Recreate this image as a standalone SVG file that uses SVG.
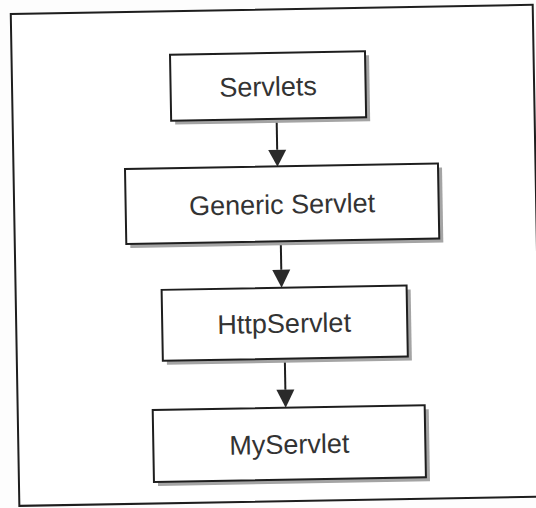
<svg xmlns="http://www.w3.org/2000/svg" width="536" height="508" viewBox="0 0 536 508">
<defs>
<style>
.box{fill:#fff;stroke:#1e1e1e;stroke-width:2}
.shadow{fill:#a4a4a4}
.lbl{font-family:"Liberation Sans",Arial,sans-serif;font-size:27px;fill:#333;text-anchor:middle;dominant-baseline:central}
.edge{stroke:#1e1e1e;stroke-width:2;fill:none}
.head{fill:#2a2a2a}
</style>
</defs>
<rect width="536" height="508" fill="#fdfdfd"/>
<g transform="rotate(-1 268 254)">
<rect id="frame" x="15" y="9.5" width="522" height="492" fill="#fff" stroke="#1e1e1e" stroke-width="2"/>
<g id="connectors">
<path class="edge" d="M279,120 V150"/>
<path class="head" d="M270,150 L288,150 L279,167 Z"/>
<path class="edge" d="M281,243 V270"/>
<path class="head" d="M272,270 L290,270 L281,288 Z"/>
<path class="edge" d="M283,360 V390"/>
<path class="head" d="M274,390 L292,390 L283,408 Z"/>
</g>
<g id="servlets">
<rect class="shadow" x="177.5" y="57" width="195" height="66"/>
<rect class="box" x="173.5" y="53" width="195" height="66"/>
<text class="lbl" x="271" y="87">Servlets</text>
</g>
<g id="generic">
<rect class="shadow" x="130.5" y="170.5" width="313" height="75"/>
<rect class="box" x="126.5" y="166.5" width="313" height="75"/>
<text class="lbl" x="283" y="205">Generic Servlet</text>
</g>
<g id="http">
<rect class="shadow" x="165" y="292" width="245" height="71"/>
<rect class="box" x="161" y="288" width="245" height="71"/>
<text class="lbl" x="283" y="324">HttpServlet</text>
</g>
<g id="my">
<rect class="shadow" x="154" y="412" width="272" height="72"/>
<rect class="box" x="150" y="408" width="272" height="72"/>
<text class="lbl" x="286" y="445">MyServlet</text>
</g>
</g>
</svg>
